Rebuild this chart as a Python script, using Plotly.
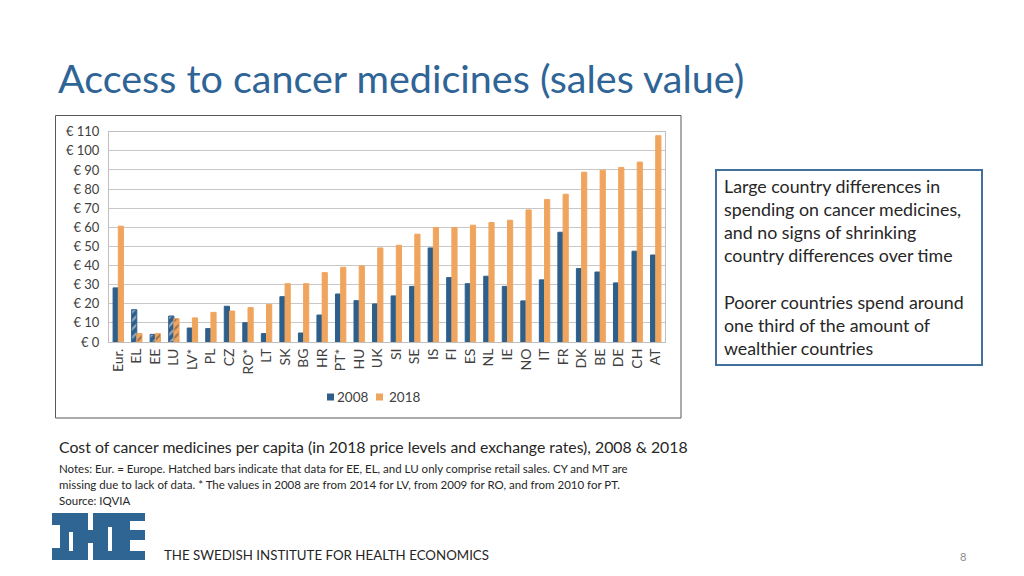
import plotly.graph_objects as go

W, H = 1024, 576

countries = ["Eur.", "EL", "EE", "LU", "LV*", "PL", "CZ", "RO*", "LT", "SK", "BG", "HR", "PT*", "HU",
             "UK", "SI", "SE", "IS", "FI", "ES", "NL", "IE", "NO", "IT", "FR", "DK", "BE", "DE", "CH", "AT"]
v2008 = [28.3, 16.9, 4.0, 13.6, 7.3, 7.0, 18.7, 10.1, 4.4, 23.7, 4.7, 14.1, 25.1, 21.6,
         19.9, 24.1, 29.1, 49.2, 33.7, 30.5, 34.4, 29.1, 21.5, 32.5, 57.4, 38.4, 36.6, 30.9, 47.5, 45.5]
v2018 = [60.6, 4.4, 4.4, 12.2, 12.6, 15.5, 16.2, 18.0, 19.7, 30.5, 30.5, 36.3, 39.1, 39.8,
         49.2, 50.6, 56.4, 59.9, 59.9, 61.1, 62.5, 63.7, 69.1, 74.5, 77.3, 88.8, 89.9, 91.3, 94.1, 107.9]
hatched = ["EL", "EE", "LU"]
series_names = ["2008", "2018"]
y_ticks = list(range(0, 111, 10))
y_tick_labels = [f"€ {t}" for t in y_ticks]

BLUE = "#2E5F8A"
ORANGE = "#F0A55E"
COLORS = [BLUE, ORANGE]

def px_x(x):
    return x / W

def px_y(y):
    return 1 - y / H

pattern_shapes = ["/" if c in hatched else "" for c in countries]

fig = go.Figure()
for name, vals, col in zip(series_names, [v2008, v2018], COLORS):
    fig.add_trace(go.Bar(
        x=countries, y=vals, name=name, showlegend=False,
        marker=dict(color=col, line=dict(color=col, width=1),
                    pattern=dict(shape=pattern_shapes, size=6, solidity=0.35)),
    ))

fig.update_layout(
    width=W, height=H,
    margin=dict(l=0, r=0, t=0, b=0, pad=0, autoexpand=False),
    paper_bgcolor="white", plot_bgcolor="white",
    barmode="group", bargap=0.44, bargroupgap=0.0,
    font=dict(family="Lato, sans-serif", color="#404040"),
    xaxis=dict(domain=[px_x(109), px_x(665)], tickangle=-90, tickfont=dict(size=14, color="#404040"),
               showline=True, mirror=True, linecolor="#BFBFBF", linewidth=1, ticks="", automargin=False),
    yaxis=dict(domain=[px_y(342), px_y(131.7)], range=[0, 110], tickvals=y_ticks, ticktext=y_tick_labels,
               tickfont=dict(size=13, color="#404040"), showgrid=True, gridcolor="#C8C8C8", gridwidth=1,
               showline=True, mirror=True, linecolor="#BFBFBF", linewidth=1, ticks="", zeroline=False,
               automargin=False, ticklabelstandoff=6),
)

shapes = []
# chart frame
shapes.append(dict(type="rect", xref="paper", yref="paper", x0=px_x(55.5), x1=px_x(681), y0=px_y(418), y1=px_y(115.5),
                   line=dict(color="#595959", width=1), fillcolor="rgba(0,0,0,0)", layer="below"))
# text box
shapes.append(dict(type="rect", xref="paper", yref="paper", x0=px_x(716), x1=px_x(982), y0=px_y(365), y1=px_y(170),
                   line=dict(color="#41719C", width=2), fillcolor="rgba(0,0,0,0)"))

def rect(x0, y0, x1, y1, color):
    shapes.append(dict(type="rect", xref="paper", yref="paper", x0=px_x(x0), x1=px_x(x1), y0=px_y(y1), y1=px_y(y0),
                       line=dict(width=0), fillcolor=color))

# legend swatches
legend_x = [(327, 336), (376, 388)]
for (sx, tx), col in zip(legend_x, COLORS):
    rect(sx, 393.5, sx + 7, 400.5, col)

# IHE logo (blue block with white cut-outs)
LOGO = "#2E6592"
rect(52, 513, 145, 560, LOGO)
rect(52, 525, 60, 548, "white")
rect(69, 532, 73, 551, "white")
rect(88, 513, 93, 530, "white")
rect(88, 543, 93, 560, "white")
rect(108, 527, 112, 551, "white")
rect(130, 521, 145, 530, "white")
rect(130, 540, 145, 551, "white")
fig.update_layout(shapes=shapes)

ann = []
def text(x, y, s, size, color="#262626", anchor="left", family="Lato, sans-serif"):
    ann.append(dict(xref="paper", yref="paper", x=px_x(x), y=px_y(y), text=s, showarrow=False,
                    xanchor=anchor, yanchor="middle", align=anchor,
                    font=dict(size=size, color=color, family=family)))

for (sx, tx), name in zip(legend_x, series_names):
    text(tx - 1, 397, name, 13.5, color="#404040")

text(56, 77, "Access to cancer medicines (sales value)", 39.5, color="#2F6496")
box_lines = ["Large country differences in", "spending on cancer medicines,", "and no signs of shrinking",
             "country differences over time", "", "Poorer countries spend around", "one third of the amount of",
             "wealthier countries"]
for i, line in enumerate(box_lines):
    if line:
        text(722, 186 + i * 23.1, line, 17.8)
text(57, 446, "Cost of cancer medicines per capita (in 2018 price levels and exchange rates), 2008 &amp; 2018", 15.8)
notes = ["Notes: Eur. = Europe. Hatched bars indicate that data for EE, EL, and LU only comprise retail sales. CY and MT are",
         "missing due to lack of data. * The values in 2008 are from 2014 for LV, from 2009 for RO, and from 2010 for PT.",
         "Source: IQVIA"]
for i, line in enumerate(notes):
    text(57, 468 + i * 16, line, 11.5)
text(162, 555, "THE SWEDISH INSTITUTE FOR HEALTH ECONOMICS", 13.3, color="#262626")
text(963, 556, "8", 11, color="#8C8C8C", anchor="center")
fig.update_layout(annotations=ann)

fig.write_html("out.html", config={"displayModeBar": False},
               post_script="document.body.style.margin='0';document.body.style.overflow='hidden';")
